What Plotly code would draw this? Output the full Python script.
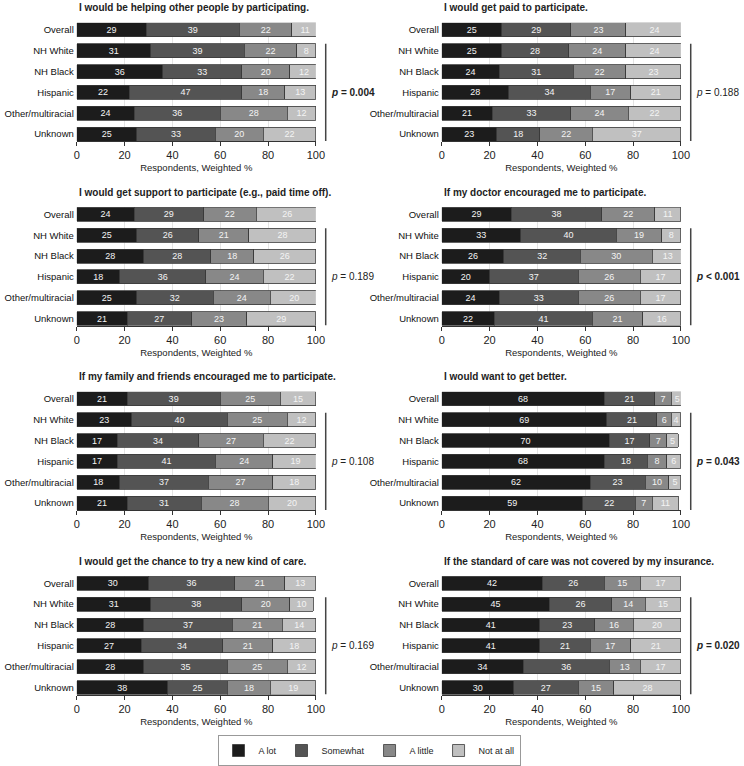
import plotly.graph_objects as go

groups = ["Overall", "NH White", "NH Black", "Hispanic", "Other/multiracial", "Unknown"]
levels = ["A lot", "Somewhat", "A little", "Not at all"]
level_colors = ["#1c1c1c", "#545454", "#888888", "#c0c0c0"]

titles = [
    "I would be helping other people by participating.",
    "I would get paid to participate.",
    "I would get support to participate (e.g., paid time off).",
    "If my doctor encouraged me to participate.",
    "If my family and friends encouraged me to participate.",
    "I would want to get better.",
    "I would get the chance to try a new kind of care.",
    "If the standard of care was not covered by my insurance.",
]

# values per panel: rows = groups, columns = A lot, Somewhat, A little, Not at all
helping_others = [[29, 39, 22, 11], [31, 39, 22, 8], [36, 33, 20, 12], [22, 47, 18, 13], [24, 36, 28, 12], [25, 33, 20, 22]]
get_paid = [[25, 29, 23, 24], [25, 28, 24, 24], [24, 31, 22, 23], [28, 34, 17, 21], [21, 33, 24, 22], [23, 18, 22, 37]]
get_support = [[24, 29, 22, 26], [25, 26, 21, 28], [28, 28, 18, 26], [18, 36, 24, 22], [25, 32, 24, 20], [21, 27, 23, 29]]
doctor_encouraged = [[29, 38, 22, 11], [33, 40, 19, 8], [26, 32, 30, 13], [20, 37, 26, 17], [24, 33, 26, 17], [22, 41, 21, 16]]
family_encouraged = [[21, 39, 25, 15], [23, 40, 25, 12], [17, 34, 27, 22], [17, 41, 24, 19], [18, 37, 27, 18], [21, 31, 28, 20]]
get_better = [[68, 21, 7, 5], [69, 21, 6, 4], [70, 17, 7, 5], [68, 18, 8, 6], [62, 23, 10, 5], [59, 22, 7, 11]]
new_care = [[30, 36, 21, 13], [31, 38, 20, 10], [28, 37, 21, 14], [27, 34, 21, 18], [28, 35, 25, 12], [38, 25, 18, 19]]
not_covered = [[42, 26, 15, 17], [45, 26, 14, 15], [41, 23, 16, 20], [41, 21, 17, 21], [34, 36, 13, 17], [30, 27, 15, 28]]

panels = [helping_others, get_paid, get_support, doctor_encouraged,
          family_encouraged, get_better, new_care, not_covered]
p_values = ["0.004", "0.188", "0.189", "< 0.001", "0.108", "0.043", "0.169", "0.020"]
p_significant = [True, False, False, True, False, True, False, True]

x_ticks = [0, 20, 40, 60, 80, 100]

W, H = 744, 766
FONT = "Liberation Sans, Arial, Helvetica, sans-serif"

def px_x(v):
    return v / W

def px_y(v):
    return 1 - v / H

col_left = [75, 446]
col_right = [318, 689]
row_pitch = 185.7
bar_top0, bar_bot0 = 23, 142

fig = go.Figure()
layout = {}
annotations = []
shapes = []

for i, (title, data) in enumerate(zip(titles, panels)):
    r, c = divmod(i, 2)
    n = i + 1
    xa = "x" if n == 1 else f"x{n}"
    ya = "y" if n == 1 else f"y{n}"
    for k, lvl in enumerate(levels):
        vals = [row[k] for row in data]
        fig.add_trace(go.Bar(
            x=vals, y=groups, orientation="h", name=lvl,
            marker=dict(color=level_colors[k], line=dict(color="#3a3a3a", width=0.8)),
            text=[str(v) for v in vals], textposition="inside",
            insidetextanchor="middle", textangle=0, constraintext="none",
            textfont=dict(color="#f4f4f4", size=9, family=FONT),
            legendgroup=lvl, showlegend=(i == 0),
            xaxis=xa, yaxis=ya, hoverinfo="x+y+name",
        ))
    top = bar_top0 + r * row_pitch
    bot = bar_bot0 + r * row_pitch
    layout[f"xaxis{'' if n == 1 else n}"] = dict(
        domain=[px_x(col_left[c]), px_x(col_right[c])], anchor=ya,
        range=[0, 100], tickvals=x_ticks, ticks="outside", ticklen=4,
        tickcolor="#333", showline=True, linecolor="#333", linewidth=1,
        showgrid=True, gridcolor="#e4e4e4", gridwidth=1, zeroline=False,
        tickfont=dict(size=11, color="#222", family=FONT),
        title=dict(text="Respondents, Weighted %", standoff=4,
                   font=dict(size=9.5, color="#222", family=FONT)),
    )
    layout[f"yaxis{'' if n == 1 else n}"] = dict(
        domain=[px_y(bot), px_y(top)], anchor=xa,
        type="category", categoryorder="array", categoryarray=groups,
        range=[5.335, -0.335], showgrid=False, zeroline=False, showline=False,
        ticks="", ticklabelstandoff=2,
        tickfont=dict(size=9.5, color="#111", family=FONT),
    )
    annotations.append(dict(
        text=f"<b>{title}</b>", x=px_x(col_left[c]), y=px_y(8 + r * row_pitch),
        xref="paper", yref="paper", xanchor="left", yanchor="middle",
        showarrow=False, font=dict(size=10, color="#222", family=FONT),
    ))
    line_x = 328 if c == 0 else 699
    shapes.append(dict(
        type="line", xref="paper", yref=ya, x0=px_x(line_x), x1=px_x(line_x),
        y0=0.665, y1=5.335, line=dict(color="#444", width=1.5),
    ))
    ptxt = f"<i>p</i> = {p_values[i]}" if not p_values[i].startswith("<") else f"<i>p</i> {p_values[i]}"
    if p_significant[i]:
        ptxt = f"<b>{ptxt}</b>"
    annotations.append(dict(
        text=ptxt, x=px_x(line_x + 3), y=3.0, xref="paper", yref=ya,
        xanchor="left", yanchor="middle", showarrow=False,
        font=dict(size=10, color="#222", family=FONT),
    ))

fig.update_layout(
    width=W, height=H, margin=dict(l=0, r=0, t=0, b=0),
    paper_bgcolor="white", plot_bgcolor="white",
    barmode="stack", bargap=0.33,
    font=dict(family=FONT, color="#222"),
    annotations=annotations, shapes=shapes,
    legend=dict(orientation="h", x=0.5, xanchor="center", y=px_y(740), yanchor="top",
                bordercolor="#999", borderwidth=1, itemwidth=30,
                font=dict(size=9, color="#222", family=FONT),
                traceorder="normal"),
    **layout,
)

fig.write_html("out.html", config={"displayModeBar": False},
               post_script="document.body.style.margin='0';")
